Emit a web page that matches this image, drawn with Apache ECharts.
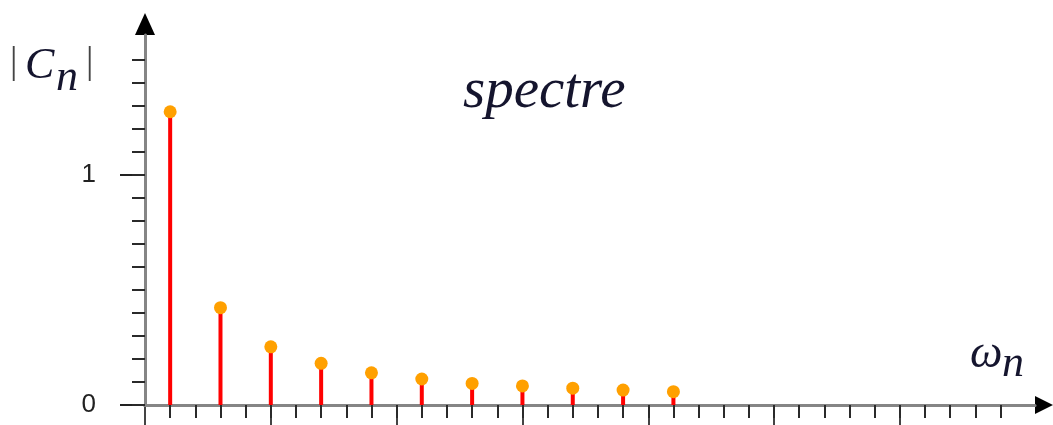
<!DOCTYPE html>
<html>
<head>
<meta charset="utf-8">
<script src="https://cdn.jsdelivr.net/npm/echarts@6/dist/echarts.min.js"></script>
<style>
html,body{margin:0;padding:0;background:#fff;}
#chart{width:1053px;height:425px;}
</style>
</head>
<body>
<div id="chart"></div>
<script>
// harmonic index (odd n) and |C_n| values
const harmonics = [1, 3, 5, 7, 9, 11, 13, 15, 17, 19, 21];
const magnitudes = [1.275, 0.423, 0.253, 0.181, 0.140, 0.113, 0.094, 0.083, 0.073, 0.065, 0.058];

// tick positions
const yMinorTicks = [0, 0.1, 0.2, 0.3, 0.4, 0.5, 0.6, 0.7, 0.8, 0.9, 1, 1.1, 1.2, 1.3, 1.4, 1.5];
const yMajorTicks = [0, 1];
const yTickLabels = [0, 1];
const xMinorTicks = [1,2,3,4,5,6,7,8,9,10,11,12,13,14,15,16,17,18,19,20,21,22,23,24,25,26,27,28,29,30,31,32,33,34];
const xMajorTicks = [0, 5, 10, 15, 20, 25, 30];

const X_MAX = 35.37;
const Y_MAX = 1.6087;

const chart = echarts.init(document.getElementById('chart'), null, {renderer: 'canvas'});

const axisGray = '#858585';
const tickColor = '#2a2a2a';
const textColor = '#15152e';

chart.setOption({
  animation: false,
  backgroundColor: '#ffffff',
  grid: {left: 145, right: 18, top: 35, bottom: 20, containLabel: false},
  xAxis: [
    {
      // black axis carrying the arrow head (drawn below the gray line)
      type: 'value', min: 0, max: X_MAX, position: 'bottom', z: 0,
      axisLine: {show: true, onZero: false, symbol: ['none', 'triangle'], symbolSize: [18, 18],
        symbolOffset: [0, 9], lineStyle: {color: '#000000', width: 3}},
      axisTick: {show: true, customValues: xMajorTicks, length: 22, lineStyle: {color: '#444', width: 2}},
      axisLabel: {show: false},
      splitLine: {show: false}
    },
    {
      type: 'value', min: 0, max: X_MAX, position: 'bottom', offset: 0, z: 1,
      axisLine: {show: true, onZero: false, lineStyle: {color: axisGray, width: 3}},
      axisTick: {show: true, customValues: xMinorTicks, length: 13, lineStyle: {color: tickColor, width: 2}},
      axisLabel: {show: false},
      splitLine: {show: false}
    }
  ],
  yAxis: [
    {
      type: 'value', min: 0, max: Y_MAX, position: 'left', z: 0,
      axisLine: {show: true, onZero: false, symbol: ['none', 'triangle'], symbolSize: [20, 22],
        symbolOffset: [0, 11], lineStyle: {color: '#000000', width: 3}},
      axisTick: {show: true, customValues: yMajorTicks, length: 25, lineStyle: {color: '#222', width: 2}},
      axisLabel: {show: true, customValues: yTickLabels, margin: 49, fontSize: 26,
        fontFamily: 'Liberation Sans', color: '#222'},
      splitLine: {show: false}
    },
    {
      type: 'value', min: 0, max: Y_MAX, position: 'left', offset: 0, z: 1,
      axisLine: {show: true, onZero: false, lineStyle: {color: axisGray, width: 3}},
      axisTick: {show: true, customValues: yMinorTicks, length: 13, lineStyle: {color: tickColor, width: 2}},
      axisLabel: {show: false},
      splitLine: {show: false}
    }
  ],
  series: [
    {
      type: 'bar', xAxisIndex: 0, yAxisIndex: 0,
      data: harmonics.map((h, i) => [h, magnitudes[i]]),
      barWidth: 4,
      itemStyle: {color: '#ff0000'},
      z: 3
    },
    {
      type: 'scatter', xAxisIndex: 0, yAxisIndex: 0,
      data: harmonics.map((h, i) => [h, magnitudes[i]]),
      symbol: 'circle', symbolSize: 13,
      itemStyle: {color: '#ffa000', opacity: 1},
      z: 4
    }
  ],
  graphic: [
    {type: 'text', left: 10, top: 45, style: {text: '|', fontFamily: 'Liberation Serif', fontSize: 37, fill: '#444'}},
    {type: 'text', left: 25, top: 44, style: {text: 'C', fontFamily: 'Liberation Serif', fontStyle: 'italic', fontSize: 44, fill: textColor}},
    {type: 'text', left: 56, top: 56, style: {text: 'n', fontFamily: 'Liberation Serif', fontStyle: 'italic', fontSize: 44, fill: textColor}},
    {type: 'text', left: 86, top: 45, style: {text: '|', fontFamily: 'Liberation Serif', fontSize: 37, fill: '#444'}},
    {type: 'text', left: 463, top: 64, style: {text: 'spectre', fontFamily: 'Liberation Serif', fontStyle: 'italic', fontSize: 57, fill: textColor}},
    {type: 'text', left: 970, top: 332, style: {text: 'ω', fontFamily: 'Liberation Serif', fontStyle: 'italic', fontSize: 46, fill: textColor}},
    {type: 'text', left: 1002, top: 342, style: {text: 'n', fontFamily: 'Liberation Serif', fontStyle: 'italic', fontSize: 44, fill: textColor}}
  ]
});
</script>
</body>
</html>
